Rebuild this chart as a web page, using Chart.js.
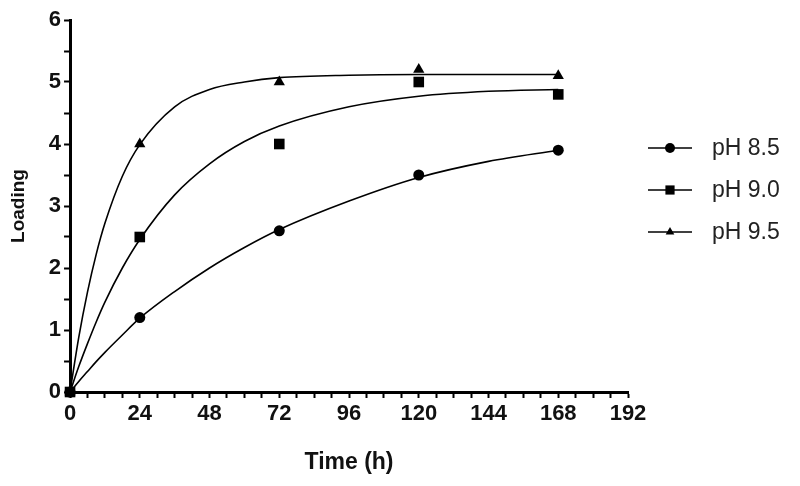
<!DOCTYPE html>
<html>
<head>
<meta charset="utf-8">
<script src="https://cdn.jsdelivr.net/npm/chart.js@4/dist/chart.umd.min.js"></script>
<style>
  html, body { margin: 0; padding: 0; background: #fff; }
  #wrap { width: 800px; height: 486px; }
</style>
</head>
<body>
<div id="wrap"><canvas id="myChart" width="800" height="486"></canvas></div>
<script>
// Measured points (time in h, loading)
const timePoints = [0, 24, 72, 120, 168];
const ph85Points = [0, 1.2, 2.6, 3.5, 3.9];
const ph90Points = [0, 2.5, 4.0, 5.0, 4.8];
const ph95Points = [0, 4.0, 5.0, 5.2, 5.1];

// Fitted curves
const fitTimes = [0, 3, 6, 9, 12, 18, 24, 36, 48, 60, 72, 96, 120, 144, 168];
const ph85Fit = [0, 0.17, 0.33, 0.49, 0.64, 0.92, 1.19, 1.62, 2.0, 2.33, 2.62, 3.08, 3.46, 3.72, 3.9];
const ph90Fit = [0, 0.41, 0.78, 1.13, 1.45, 2.0, 2.46, 3.18, 3.68, 4.04, 4.29, 4.6, 4.77, 4.85, 4.88];
const ph95Fit = [0, 0.88, 1.61, 2.22, 2.72, 3.48, 3.99, 4.6, 4.88, 5.0, 5.07, 5.11, 5.12, 5.12, 5.12];

const seriesLabels = ['pH 8.5', 'pH 9.0', 'pH 9.5'];
const seriesMarkers = ['circle', 'rect', 'triangle'];
const markerSizes = [5.5, 7.5, 6.5];

const toXY = (xs, ys) => xs.map((x, i) => ({ x: x, y: ys[i] }));

const pointSets = [ph85Points, ph90Points, ph95Points];
const fitSets = [ph85Fit, ph90Fit, ph95Fit];

const datasets = [];
// fitted lines first so markers sit on top
fitSets.forEach((fit, i) => {
    datasets.push({
        label: seriesLabels[i] + ' fit',
        data: toXY(fitTimes, fit),
        showLine: true,
        borderColor: '#000',
        borderWidth: 1.6,
        pointRadius: 0,
        cubicInterpolationMode: 'monotone',
        isFit: true
    });
});
pointSets.forEach((pts, i) => {
    datasets.push({
        label: seriesLabels[i],
        data: toXY(timePoints, pts),
        showLine: false,
        pointStyle: seriesMarkers[i],
        pointRadius: markerSizes[i],
        backgroundColor: '#000',
        borderColor: '#000',
        borderWidth: 0,
        clip: false
    });
});

// Legend on the right: short line with the marker in its middle
const sideLegend = {
    id: 'sideLegend',
    afterDraw(chart) {
        const ctx = chart.ctx;
        const items = chart.data.datasets.filter(d => !d.isFit);
        ctx.save();
        items.forEach((ds, i) => {
            const y = 148 + i * 42;
            ctx.strokeStyle = '#000';
            ctx.lineWidth = 1.6;
            ctx.beginPath();
            ctx.moveTo(648, y);
            ctx.lineTo(692, y);
            ctx.stroke();
            ctx.fillStyle = '#000';
            Chart.helpers.drawPoint(ctx, {
                pointStyle: ds.pointStyle,
                radius: ds.pointStyle === 'rect' ? 6.5 : 5,
                rotation: 0,
                borderWidth: 0
            }, 670, y);
            ctx.fillStyle = '#222';
            ctx.font = '23px "Liberation Sans", Arial, sans-serif';
            ctx.textBaseline = 'middle';
            ctx.textAlign = 'left';
            ctx.fillText(ds.label, 712, y + 1);
        });
        ctx.restore();
    }
};

const tickFont = { family: '"Liberation Sans", Arial, sans-serif', size: 22, weight: 'bold' };

const ctx = document.getElementById('myChart').getContext('2d');
new Chart(ctx, {
    type: 'scatter',
    data: { datasets: datasets },
    plugins: [sideLegend],
    options: {
        responsive: false,
        animation: false,
        layout: { padding: { top: 20, right: 172, bottom: 6, left: 0 } },
        plugins: {
            legend: { display: false },
            tooltip: { enabled: false }
        },
        scales: {
            x: {
                type: 'linear',
                min: 0,
                max: 192,
                border: { display: true, color: '#000', width: 3 },
                grid: { drawOnChartArea: false, color: '#000', tickLength: 6, tickWidth: 2 },
                ticks: {
                    stepSize: 6,
                    autoSkip: false,
                    maxRotation: 0,
                    color: '#111',
                    font: tickFont,
                    padding: 3,
                    callback: v => (v % 24 === 0 ? String(v) : '')
                },
                title: {
                    display: true,
                    text: 'Time (h)',
                    color: '#111',
                    font: { family: '"Liberation Sans", Arial, sans-serif', size: 23, weight: 'bold' },
                    padding: { top: 18, bottom: 4 }
                }
            },
            y: {
                type: 'linear',
                min: 0,
                max: 6,
                border: { display: true, color: '#000', width: 3 },
                grid: { drawOnChartArea: false, color: '#000', tickLength: 6, tickWidth: 2 },
                ticks: {
                    stepSize: 0.5,
                    autoSkip: false,
                    color: '#111',
                    font: tickFont,
                    padding: 3,
                    callback: v => (Number.isInteger(v) ? String(v) : '')
                },
                title: {
                    display: true,
                    text: 'Loading',
                    color: '#111',
                    font: { family: '"Liberation Sans", Arial, sans-serif', size: 19, weight: 'bold' },
                    padding: { top: 7, bottom: 16 }
                }
            }
        }
    }
});
</script>
</body>
</html>
